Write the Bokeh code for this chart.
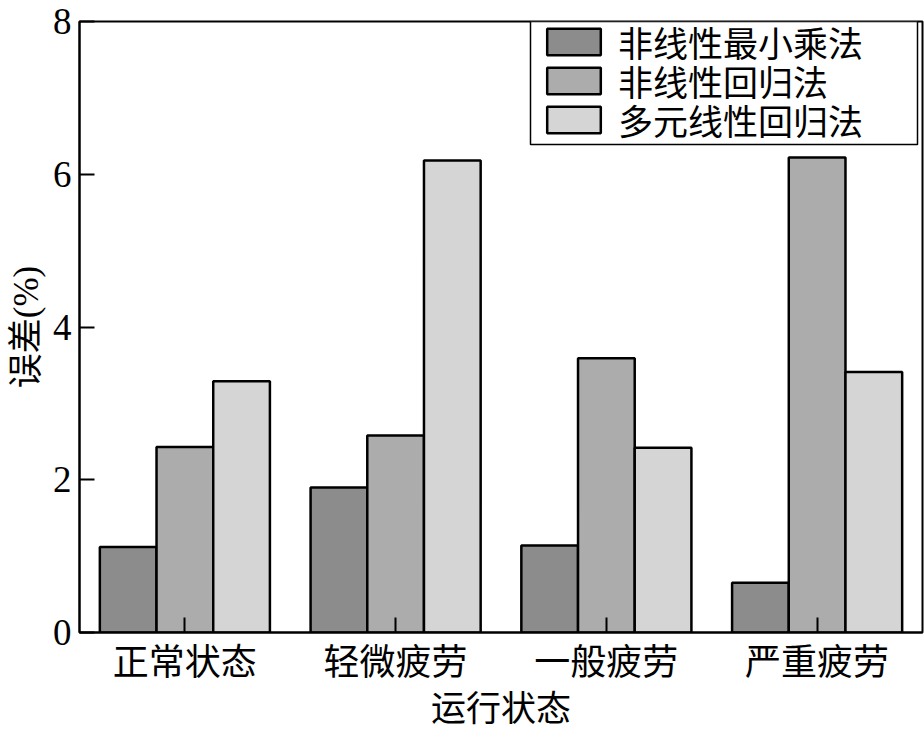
from bokeh.plotting import figure
from bokeh.models import FactorRange, Range1d, FixedTicker, Legend, LegendItem, ColumnDataSource, BoxAnnotation
from bokeh.transform import dodge
from bokeh.embed import file_html
from bokeh.resources import INLINE

categories = ["正常状态", "轻微疲劳", "一般疲劳", "严重疲劳"]
series_names = ["非线性最小乘法", "非线性回归法", "多元线性回归法"]
nonlinear_ls = [1.12, 1.90, 1.14, 0.65]
nonlinear_reg = [2.43, 2.58, 3.59, 6.22]
multi_linear_reg = [3.29, 6.18, 2.42, 3.41]
y_ticks = [0, 2, 4, 6, 8]

colors = ["#8c8c8c", "#acacac", "#d5d5d5"]
FONT = "'Liberation Serif', 'Noto Sans CJK SC'"

source = ColumnDataSource(dict(cat=categories, s0=nonlinear_ls, s1=nonlinear_reg, s2=multi_linear_reg))

p = figure(width=924, height=736, output_backend="svg", toolbar_location=None,
           x_range=FactorRange(*categories, range_padding=0), y_range=Range1d(0, 8))
p.min_border_left = 79
p.min_border_right = 2
p.min_border_top = 21
p.min_border_bottom = 104

bw = 0.269
renderers = []
for i, key in enumerate(["s0", "s1", "s2"]):
    r = p.vbar(x=dodge("cat", (i - 1) * bw, range=p.x_range), top=key, width=bw, source=source,
               fill_color=colors[i], line_color="black", line_width=2.5)
    renderers.append(r)

p.xgrid.visible = False
p.ygrid.visible = False
p.outline_line_color = "black"
p.outline_line_width = 2
p.outline_line_alpha = 1
p.background_fill_color = "white"
p.border_fill_color = "white"

for ax in (p.xaxis[0], p.yaxis[0]):
    ax.axis_line_color = "black"
    ax.axis_line_width = 2
    ax.major_tick_line_color = "black"
    ax.major_tick_line_width = 2
    ax.major_tick_in = 15
    ax.major_tick_out = 0
    ax.minor_tick_line_color = None
    ax.major_label_text_font = FONT
    ax.major_label_text_color = "black"
    ax.axis_label_text_font = FONT
    ax.axis_label_text_font_style = "normal"
    ax.axis_label_text_color = "black"

p.yaxis.ticker = FixedTicker(ticks=y_ticks)
p.yaxis.major_label_text_font_size = "37px"
p.yaxis.major_label_standoff = 8
p.yaxis.axis_label = "误差(%)"
p.yaxis.axis_label_text_font_size = "35px"
p.yaxis.axis_label_standoff = 4

p.xaxis.major_label_text_font_size = "36px"
p.xaxis.major_label_standoff = 10
p.xaxis.axis_label = "运行状态"
p.xaxis.axis_label_text_font_size = "35px"
p.xaxis.axis_label_standoff = 4

# legend frame (canvas pixels)
box = BoxAnnotation(left=530, right=917, top=21, bottom=144,
                    left_units="canvas", right_units="canvas", top_units="canvas", bottom_units="canvas",
                    fill_color="white", fill_alpha=1, line_color="black", line_width=1.5, line_alpha=1)
p.add_layout(box)

# one single-item legend per row so the row pitch can match the reference
row_bottoms = [565, 526, 487]
for i in range(3):
    lg = Legend(items=[LegendItem(label=series_names[i], renderers=[renderers[i]])],
                location=(461, row_bottoms[i]), margin=0, padding=0, spacing=0,
                glyph_width=67, glyph_height=33, label_standoff=11,
                label_text_font=FONT, label_text_font_size="35px", label_text_color="black",
                border_line_color=None, background_fill_alpha=0)
    p.add_layout(lg)

open("out.html", "w").write(file_html(p, INLINE))
